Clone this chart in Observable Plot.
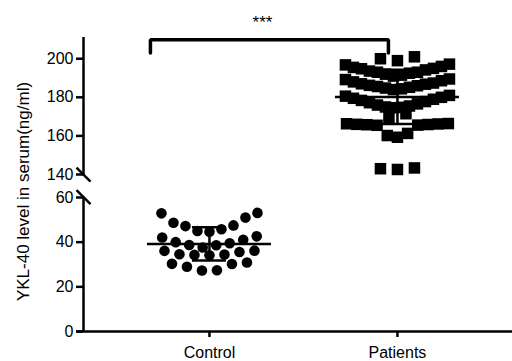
<!DOCTYPE html>
<html>
<head>
<meta charset="utf-8">
<script src="https://cdn.jsdelivr.net/npm/d3@7"></script>
<script src="https://cdn.jsdelivr.net/npm/@observablehq/plot@0.6"></script>
<style>
  html, body { margin: 0; padding: 0; background: #fff; }
  #chart svg { display: block; }
</style>
</head>
<body>
<div id="chart"></div>
<script>
// ---------- data ----------
const categories = ["Control", "Patients"];
const controlValues = [51.0, 53.1, 52.9, 47.5, 45.8, 44.7, 45.0, 47.2, 48.7, 42.1,
  42.6, 40.0, 38.6, 37.6, 36.2, 36.1, 38.7, 39.5, 41.1, 34.5,
  34.6, 30.3, 29.0, 27.3, 27.4, 30.2, 30.9, 34.3, 35.6, 34.1];
const patientValues = [199.0, 200.0, 201.0,
  197.2, 196.8, 196.0, 195.5, 195.0, 194.8, 194.2, 193.6, 193.0, 193.0, 192.5, 192.0, 191.5, 191.0,
  189.5, 189.2, 188.6, 188.0, 187.4, 187.0, 186.8, 186.2, 186.0, 185.6, 185.2, 184.8, 184.4, 184.0,
  181.0, 180.6, 180.0, 179.5, 179.0, 178.4, 177.8, 177.2, 176.6, 176.0, 175.5, 175.0, 174.6, 174.8,
  171.5, 169.5,
  166.4, 166.2, 166.0, 165.8, 165.6, 165.9, 166.3, 165.5,
  161.3, 160.2, 159.3,
  143.0, 142.6, 143.4];
const yTicks = [0, 20, 40, 60, 140, 160, 180, 200];
const yTitle = "YKL-40 level in serum(ng/ml)";
const sigLabel = "***";

// ---------- layout ----------
const width = 512, height = 361;
const marginLeft = 83, marginRight = 0, marginTop = 37, marginBottom = 30;
const xDomain = [-0.67, 1.612];
const pxPerX = (width - marginLeft - marginRight) / (xDomain[1] - xDomain[0]);
// broken y axis as a piecewise-linear scale
const yDomain = [0, 60, 140, 211];
const yRange = [331, 197, 174, 37];
const lowerSeg = [0, 61.5], upperSeg = [139.5, 211];

// GraphPad-like column scatter: bin values into rows, spread each row symmetrically
const swarmSpec = [
  {thresholds: [32, 37.5, 43], maxGap: 15, maxWidth: 108},
  {thresholds: [150.5, 158.5, 166.5, 174.5, 182.5, 190.5, 198.5], maxGap: 17, maxWidth: 112}
];
function swarm(values, gi) {
  const {thresholds, maxGap, maxWidth} = swarmSpec[gi];
  const bins = d3.group(values, v => d3.bisectRight(thresholds, v));
  const out = [];
  for (const [, vs] of bins) {
    const sorted = [...vs].sort((a, b) => a - b);
    const n = sorted.length;
    const gap = Math.min(maxGap, maxWidth / n);
    const slots = d3.range(n).map(k => k - (n - 1) / 2)
      .sort((a, b) => Math.abs(a) - Math.abs(b) || a - b);
    sorted.forEach((v, i) => out.push({group: categories[gi], v, x: gi + slots[i] * gap / pxPerX}));
  }
  return out;
}
const controlPts = swarm(controlValues, 0);
const patientPts = swarm(patientValues, 1);

const stats = [controlValues, patientValues].map((vals, i) => ({
  i, mean: d3.mean(vals), sd: d3.deviation(vals)
}));
const meanHalf = 62 / pxPerX, capHalf = 17 / pxPerX;
const caps = stats.flatMap(s => [{i: s.i, y: s.mean - s.sd}, {i: s.i, y: s.mean + s.sd}]);

// significance bracket (annotation)
const bracketX = [-0.314, 0.952], bracketY = [203, 209.8];
const bracket = [[bracketX[0], bracketY[0]], [bracketX[0], bracketY[1]], [bracketX[1], bracketY[1]], [bracketX[1], bracketY[0]]];

const slash = {
  draw(ctx, size) {
    const r = Math.sqrt(size / Math.PI);
    ctx.moveTo(-r, -r);
    ctx.lineTo(r, r);
  }
};

const lw = 2.5;
const chart = Plot.plot({
  width, height, marginLeft, marginRight, marginTop, marginBottom,
  style: {fontFamily: "'Liberation Sans', Arial, Helvetica, sans-serif", background: "#fff", color: "#000"},
  x: {type: "linear", domain: xDomain},
  y: {type: "linear", domain: yDomain, range: yRange},
  marks: [
    // axes lines
    Plot.ruleY([0], {x1: xDomain[0] - 7 / pxPerX, x2: xDomain[1], stroke: "#000", strokeWidth: lw}),
    Plot.ruleX([lowerSeg, upperSeg], {x: () => xDomain[0], y1: d => d[0], y2: d => d[1], stroke: "#000", strokeWidth: lw}),
    Plot.dot([lowerSeg[1], upperSeg[0]], {x: () => xDomain[0], y: d => d, symbol: slash, r: 7, stroke: "#000", fill: "none", strokeWidth: lw}),
    Plot.axisY({ticks: yTicks, tickFormat: d => String(d), tickSize: 7, tickPadding: 3, fontSize: 16, strokeWidth: lw, label: null}),
    Plot.axisX({ticks: [0, 1], tickFormat: i => categories[i], tickSize: 6, tickPadding: 9, fontSize: 16, strokeWidth: lw, label: null}),
    Plot.text([yTitle], {frameAnchor: "left", dx: -60, dy: 7, rotate: -90, textAnchor: "middle", lineAnchor: "middle", fontSize: 17, fill: "#000"}),
    // points
    Plot.dot(controlPts, {x: "x", y: "v", r: 5.3, fill: "#000", stroke: "none"}),
    Plot.dot(patientPts, {x: "x", y: "v", symbol: "square", r: 6.5, fill: "#000", stroke: "none"}),
    // mean ± SD
    Plot.ruleY(stats, {y: "mean", x1: d => d.i - meanHalf, x2: d => d.i + meanHalf, stroke: "#000", strokeWidth: lw}),
    Plot.ruleX(stats, {x: "i", y1: d => d.mean - d.sd, y2: d => d.mean + d.sd, stroke: "#000", strokeWidth: lw}),
    Plot.ruleY(caps, {y: "y", x1: d => d.i - capHalf, x2: d => d.i + capHalf, stroke: "#000", strokeWidth: lw}),
    // significance
    Plot.line(bracket, {x: d => d[0], y: d => d[1], stroke: "#000", strokeWidth: 3.5, strokeLinejoin: "miter"}),
    Plot.text([sigLabel], {x: () => 0.282, y: () => 218.5, fontSize: 17, fill: "#000"})
  ]
});
document.getElementById("chart").appendChild(chart);
</script>
</body>
</html>
